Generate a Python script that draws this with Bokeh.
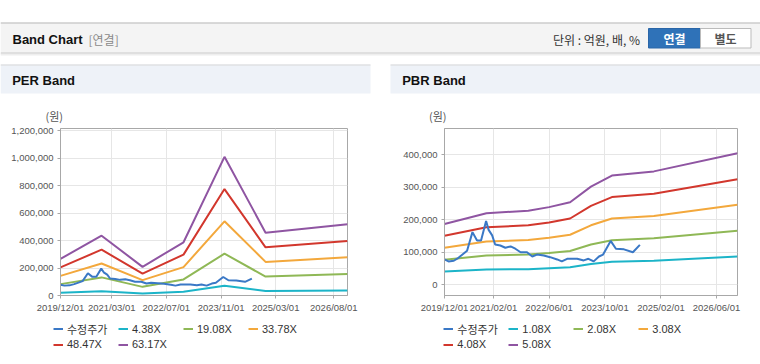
from datetime import datetime
from bokeh.plotting import figure
from bokeh.models import (Range1d, FixedTicker, DatetimeTickFormatter, NumeralTickFormatter,
                          Legend, LegendItem, Spacer)
from bokeh.layouts import column, row
from bokeh.core.properties import value
from bokeh.embed import file_html
from bokeh.resources import INLINE

FONT = "Liberation Sans"
KFONT = "Noto Sans CJK KR"

# ---------------- data ----------------
price_dates = ["2019-12-01", "2020-01-05", "2020-02-20", "2020-04-01", "2020-06-15", "2020-08-01",
               "2020-09-10", "2020-10-15", "2020-11-28", "2020-12-20", "2021-01-20", "2021-02-15",
               "2021-04-01", "2021-05-15", "2021-06-30", "2021-08-10", "2021-09-25", "2021-11-20",
               "2022-01-05", "2022-02-15", "2022-04-15", "2022-06-10", "2022-08-10", "2022-09-20",
               "2022-11-05", "2023-02-01", "2023-03-30", "2023-05-10", "2023-06-25", "2023-08-10",
               "2023-09-15", "2023-11-20", "2024-01-05", "2024-03-15", "2024-06-01", "2024-08-01"]
price_vals = [78000, 72000, 74000, 83000, 105000, 162000, 136000, 136000, 196000, 169000,
              152000, 124000, 121000, 114000, 118000, 111000, 100000, 100000,
              87000, 93000, 90000, 85000, 78000, 72000, 80000,
              80000, 75000, 80000, 72000, 87000, 93000, 135000,
              111000, 109000, 100000, 123000]

per_dates = ["2019-12-01", "2020-12-01", "2021-12-01", "2022-12-01", "2023-12-01", "2024-12-01", "2026-12-01"]
per_438 = [20000, 31000, 15000, 27000, 71000, 32000, 36000]
per_1908 = [83000, 132000, 63000, 117000, 305000, 138000, 157000]
per_3378 = [143000, 233000, 112000, 207000, 541000, 245000, 278000]
per_4847 = [205000, 334000, 160000, 298000, 776000, 351000, 398000]
per_6317 = [267000, 436000, 209000, 388000, 1011000, 458000, 519000]
per_labels = ["수정주가", "4.38X", "19.08X", "33.78X", "48.47X", "63.17X"]
per_xticks = ["2019-12-01", "2021-03-01", "2022-07-01", "2023-11-01", "2025-03-01", "2026-08-01"]
per_yticks = [0, 200000, 400000, 600000, 800000, 1000000, 1200000]

pbr_dates = ["2019-12-01", "2020-12-01", "2021-12-01", "2022-06-01", "2022-12-01", "2023-06-01",
             "2023-12-01", "2024-12-01", "2026-12-01"]
pbr_108 = [41000, 47000, 48000, 51000, 54000, 64000, 71000, 74000, 87000]
pbr_208 = [77000, 90000, 93000, 98000, 104000, 124000, 137000, 143000, 166000]
pbr_308 = [114000, 133000, 138000, 145000, 154000, 183000, 204000, 212000, 246000]
pbr_408 = [151000, 177000, 183000, 192000, 204000, 243000, 270000, 280000, 325000]
pbr_508 = [187000, 220000, 228000, 239000, 254000, 302000, 336000, 349000, 405000]
pbr_labels = ["수정주가", "1.08X", "2.08X", "3.08X", "4.08X", "5.08X"]
pbr_xticks = ["2019-12-01", "2021-02-01", "2022-06-01", "2023-10-01", "2025-02-01", "2026-06-01"]
pbr_yticks = [0, 100000, 200000, 300000, 400000]

x_start, x_end = "2019-12-01", "2026-12-01"

colors = ["#3a78c6", "#1cb4c8", "#8fb856", "#f3a83c", "#d2372d", "#8f55a2"]


def d(s):
    return datetime.strptime(s, "%Y-%m-%d")


def ms(s):
    return (d(s) - datetime(1970, 1, 1)).total_seconds() * 1000.0


# ---------------- decoration figures (page pixel coordinates) ----------------
def deco(w, h, bg):
    f = figure(width=w, height=h, x_range=Range1d(0, w), y_range=Range1d(h, 0),
               toolbar_location=None, output_backend="svg", min_border=0,
               x_axis_location=None, y_axis_location=None,
               background_fill_color=bg, border_fill_color=bg, outline_line_color=None)
    f.grid.visible = False
    return f


head = deco(760, 124, "#ffffff")
# top bar
head.quad(left=[0], right=[760], top=[22], bottom=[52], fill_color="#f4f4f4", line_color=None)
head.segment(x0=[0], x1=[760], y0=[22.5], y1=[22.5], line_color="#b8b8b8", line_width=1)
head.segment(x0=[0, 0, 0], x1=[760, 760, 760], y0=[52.5, 53.5, 54.5], y1=[52.5, 53.5, 54.5],
             line_color=["#c4c4c4", "#dcdcdc", "#eeeeee"], line_width=1)
head.text(x=[12], y=[38.5], text=["Band Chart"], text_font=value(FONT), text_font_style="bold",
          text_font_size="13px", text_color="#111111", text_baseline="middle")
head.text(x=[88], y=[38.5], text=["[연결]"], text_font=value(KFONT),
          text_font_size="12px", text_color="#8a8a8a", text_baseline="middle")
head.text(x=[552.5], y=[38.5], text=["단위 : 억원, 배, %"], text_font=value(KFONT),
          text_font_size="12px", text_color="#333333", text_baseline="middle")
head.quad(left=[648], right=[700], top=[28], bottom=[47.5], fill_color="#2f72b8", line_color="#2a66a8")
head.quad(left=[700], right=[750.5], top=[28], bottom=[47.5], fill_color="#ffffff", line_color="#bbbbbb")
head.text(x=[674], y=[38], text=["연결"], text_font=value(KFONT), text_font_style="bold",
          text_font_size="12px", text_color="#ffffff", text_baseline="middle", text_align="center")
head.text(x=[725], y=[38], text=["별도"], text_font=value(KFONT), text_font_style="bold",
          text_font_size="12px", text_color="#555555", text_baseline="middle", text_align="center")
# panel title bands
head.quad(left=[0, 390], right=[370, 760], top=[64, 64], bottom=[93, 93],
          fill_color="#eef2f8", line_color=None)
head.segment(x0=[0, 390], x1=[370, 760], y0=[64.5, 64.5], y1=[64.5, 64.5],
             line_color="#d8d8d8", line_width=1)
head.text(x=[11.7, 401.7], y=[80, 80], text=["PER Band", "PBR Band"], text_font=value(FONT),
          text_font_style="bold", text_font_size="13px", text_color="#111111", text_baseline="middle")
# unit labels above the y axes
head.text(x=[45, 428.5], y=[115.5, 115.5], text=["(원)", "(원)"], text_font=value(KFONT),
          text_font_size="11px", text_color="#555555", text_baseline="middle")


# ---------------- charts ----------------
def chart(band_dates, bands, xticks, yticks, yr, ml, mr):
    p = figure(width=370, height=192, x_axis_type="datetime",
               x_range=Range1d(d(x_start), d(x_end)), y_range=Range1d(*yr),
               toolbar_location=None, output_backend="svg",
               min_border_left=ml, min_border_right=mr, min_border_top=4, min_border_bottom=21,
               background_fill_color="#ffffff", border_fill_color="#ffffff",
               outline_line_color="#a8a8a8")
    xt = FixedTicker(ticks=[ms(t) for t in xticks])
    yt = FixedTicker(ticks=yticks)
    p.xaxis.ticker = xt
    p.xgrid.ticker = xt
    p.yaxis.ticker = yt
    p.ygrid.ticker = yt
    fmt = "%Y/%m/%d"
    p.xaxis.formatter = DatetimeTickFormatter(milliseconds=fmt, seconds=fmt, minsec=fmt, minutes=fmt,
                                              hourmin=fmt, hours=fmt, days=fmt, months=fmt, years=fmt)
    p.yaxis.formatter = NumeralTickFormatter(format="0,0")
    for ax in (p.xaxis[0], p.yaxis[0]):
        ax.axis_line_color = "#a8a8a8"
        ax.major_tick_line_color = "#a8a8a8"
        ax.major_tick_out = 3
        ax.major_tick_in = 0
        ax.minor_tick_line_color = None
        ax.major_label_text_font_size = "9.5px"
        ax.major_label_text_color = "#555555"
        ax.major_label_text_font = FONT
    p.xaxis.major_label_standoff = 3
    p.yaxis.major_label_standoff = 4
    p.grid.grid_line_color = "#e6e6e6"

    bx = [d(s) for s in band_dates]
    for i, b in enumerate(bands):
        p.line(bx, b, line_color=colors[i + 1], line_width=2)
    p.line([d(s) for s in price_dates], price_vals, line_color=colors[0], line_width=2)
    return p


per = chart(per_dates, [per_438, per_1908, per_3378, per_4847, per_6317],
            per_xticks, per_yticks, (0, 1217500), 60, 23)
pbr = chart(pbr_dates, [pbr_108, pbr_208, pbr_308, pbr_408, pbr_508],
            pbr_xticks, pbr_yticks, (-33000, 481000), 54, 23)

# ---------------- legend strip ----------------
legf = deco(760, 45, "#ffffff")


def make_legend(labels, vx):
    # legend keys: off-screen samples carrying each series' line style
    rs = [legf.line(x=[-20, -10], y=[-20, -20], line_color=c, line_width=2) for c in colors]
    items = [LegendItem(label=lab, renderers=[r]) for lab, r in zip(labels, rs)]
    leg = Legend(items=items, location=(vx, 9.5), orientation="horizontal", ncols=4,
                 glyph_width=10, glyph_height=15, label_height=15, label_width=51,
                 label_standoff=4, spacing=0, padding=0, margin=0,
                 border_line_color=None, background_fill_alpha=0,
                 label_text_font_size="11px", label_text_color="#333333",
                 label_text_font=FONT + ", " + KFONT)
    legf.add_layout(leg)


make_legend(per_labels, 53)
make_legend(pbr_labels, 443.3)

foot = deco(760, 3, "#ffffff")
foot.segment(x0=[0, 390], x1=[370, 760], y0=[0.5, 0.5], y1=[0.5, 0.5], line_color="#cfcfcf", line_width=1)

layout = column(head, row(per, Spacer(width=20, height=192), pbr, spacing=0), legf, foot, spacing=0)

open("out.html", "w").write(file_html(layout, INLINE))
